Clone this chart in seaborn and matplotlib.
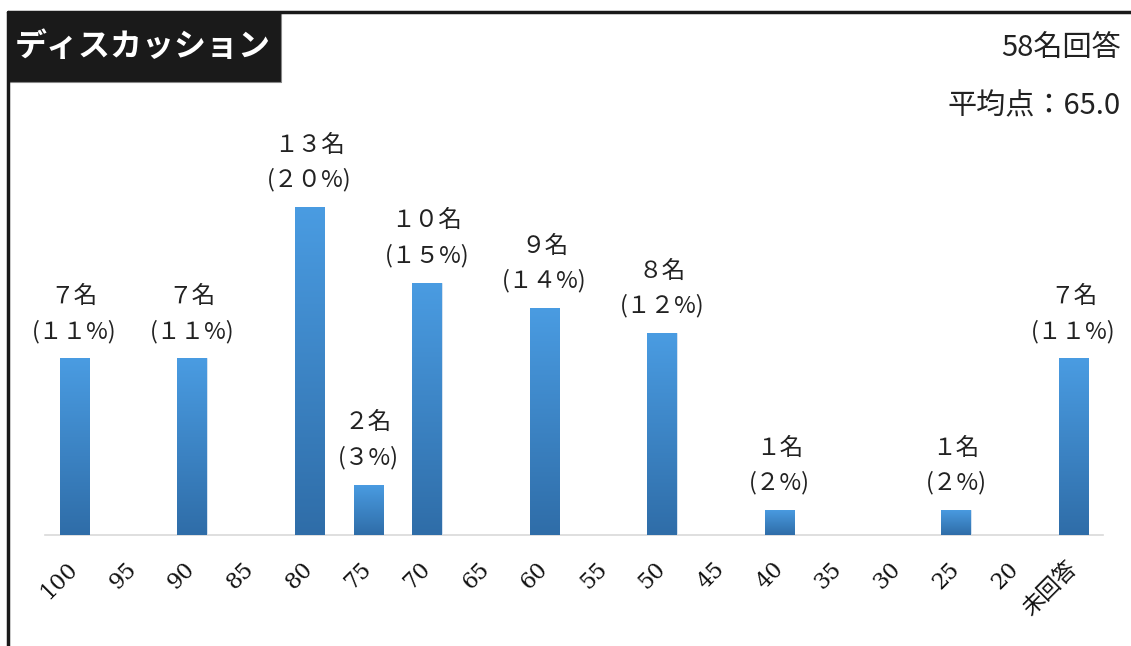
"""
Score distribution bar chart for the discussion section (recreated with seaborn).
"""

import numpy as np
import pandas as pd
import matplotlib
matplotlib.use("Agg")
import matplotlib.pyplot as plt
import seaborn as sns
from matplotlib.patches import Rectangle
from matplotlib.lines import Line2D

# --- data ---
categories = ["100", "95", "90", "85", "80", "75", "70", "65", "60", "55",
              "50", "45", "40", "35", "30", "25", "20", "未回答"]
counts   = [7, 0, 7, 0, 13, 2, 10, 0, 9, 0, 8, 0, 1, 0, 0, 1, 0, 7]
percents = [11, 0, 11, 0, 20, 3, 15, 0, 14, 0, 12, 0, 2, 0, 0, 2, 0, 11]
title_text = "ディスカッション"
n_answers_text = "58名回答"
average_text = "平均点：65.0"

JP = ["Noto Sans CJK JP", "DejaVu Sans"]
SERIF = ["DejaVu Serif", "Noto Sans CJK JP"]
FULLWIDTH = str.maketrans("0123456789", "０１２３４５６７８９")

sns.set_theme(style="white")
plt.rcParams["font.family"] = JP

W, H = 1131, 646
fig = plt.figure(figsize=(W / 100, H / 100), dpi=100)
ax = fig.add_axes([45 / W, 1 - 535 / H, 1058 / W, 404 / H])

df = pd.DataFrame({"score": categories, "count": counts})
sns.barplot(data=df, x="score", y="count", order=categories, width=0.5,
            color="#3d84c6", saturation=1, ax=ax)

ax.set_ylim(0, 16)
ax.set_xlim(-0.5, len(categories) - 0.5)

# vertical gradient on every bar (light on top, darker at the base)
grad = np.linspace(1, 0, 256).reshape(-1, 1)
cmap = matplotlib.colors.LinearSegmentedColormap.from_list(
    "bar", ["#2f6da8", "#4a9ce2"])
for patch in ax.patches:
    h = patch.get_height()
    if h <= 0:
        continue
    x0 = patch.get_x()
    im = ax.imshow(grad, extent=(x0, x0 + patch.get_width(), 0, h),
                   aspect="auto", cmap=cmap, origin="upper", zorder=3)
    im.set_clip_path(patch)
    patch.set_edgecolor("#dfe8f2")
    patch.set_linewidth(0.6)

# "n名 (p%)" labels above the bars
for i, (c, p) in enumerate(zip(counts, percents)):
    if c == 0:
        continue
    label = f"{str(c).translate(FULLWIDTH)}名\n({str(p).translate(FULLWIDTH)}%)"
    ax.annotate(label, (i, c), xytext=(0, 11), textcoords="offset points",
                ha="center", va="bottom", fontsize=17, color="#222222",
                linespacing=1.6, family=JP, zorder=5)

# axes styling
for side in ["top", "right", "left"]:
    ax.spines[side].set_visible(False)
ax.spines["bottom"].set_color("#d9d9d9")
ax.spines["bottom"].set_linewidth(1.2)
ax.set_yticks([])
ax.set_xlabel("")
ax.set_ylabel("")
ax.tick_params(axis="x", length=0, pad=22)
ax.set_xticks(range(len(categories)))
ax.set_xticklabels(categories, rotation=45, ha="right", va="center",
                   rotation_mode="anchor", fontsize=16, family=SERIF,
                   color="#111111")

# frame lines and the black title box
fig.add_artist(Line2D([8 / W, 1], [1 - 12 / H, 1 - 12 / H],
                      transform=fig.transFigure, color="#1a1a1a", lw=2.5))
fig.add_artist(Line2D([8 / W, 8 / W], [0, 1 - 12 / H],
                      transform=fig.transFigure, color="#1a1a1a", lw=2.5))
fig.add_artist(Rectangle((8 / W, 1 - 82 / H), 273 / W, 70 / H,
                         transform=fig.transFigure, facecolor="#1a1a1a",
                         edgecolor="#888888", lw=0.8))
fig.text(15 / W, 1 - 47 / H, title_text, color="white", fontsize=23,
         fontweight="bold", va="center", ha="left", family=JP)

fig.text(1121 / W, 1 - 49 / H, n_answers_text, fontsize=21, ha="right",
         va="center", color="#222222", family=JP)
fig.text(1121 / W, 1 - 106 / H, average_text, fontsize=21, ha="right",
         va="center", color="#222222", family=JP)

fig.savefig("out.png", dpi=100)
plt.close(fig)
